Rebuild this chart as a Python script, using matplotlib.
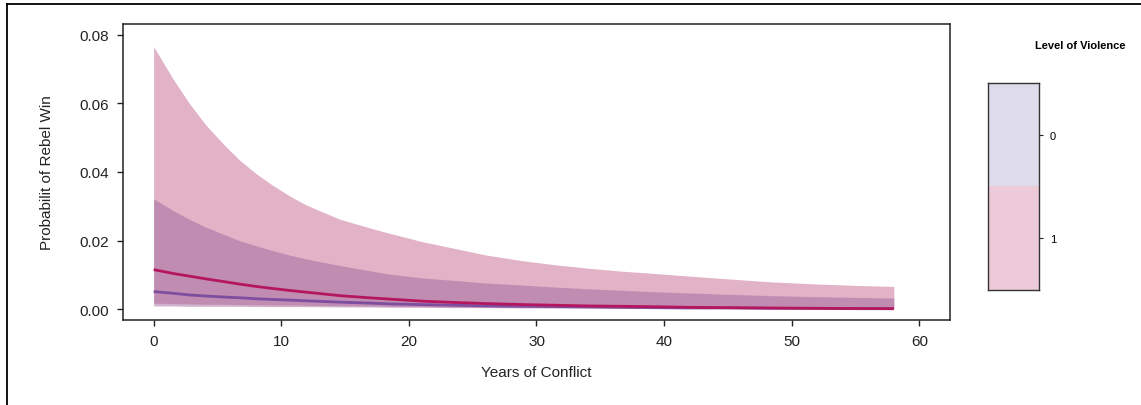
import matplotlib
matplotlib.use("Agg")
import matplotlib.pyplot as plt
from matplotlib.lines import Line2D

plt.rcParams['font.family'] = ['Liberation Sans', 'DejaVu Sans']

# Years of conflict at which values were read
years = [0, 1.5, 2.8, 4.1, 5.5, 6.7, 8, 9.3, 10.7, 12, 14.6, 17.2, 18.5, 21, 23.7, 26, 28.9, 31.5, 34.1, 36.5, 38.8, 42, 45, 48.5, 52, 55, 58]

# Level of violence = 1 (pink)
upper_1 = [0.0766, 0.0673, 0.0600, 0.0537, 0.0480, 0.0436, 0.0396, 0.0362, 0.0329, 0.0303, 0.0262, 0.0234, 0.0221, 0.0197, 0.0176, 0.0158, 0.0141, 0.0129, 0.0119, 0.0111, 0.0105, 0.0096, 0.0088, 0.0079, 0.0073, 0.0069, 0.0066]
mean_1 = [0.0115, 0.0104, 0.0096, 0.0088, 0.0080, 0.0073, 0.0066, 0.0060, 0.0054, 0.0049, 0.0039, 0.0032, 0.0029, 0.0023, 0.0019, 0.0016, 0.0013, 0.0011, 0.0009, 0.0008, 0.0007, 0.0005, 0.0004, 0.0003, 0.0002, 0.00015, 0.0001]
lower_1 = [0.0017, 0.0016, 0.0015, 0.0014, 0.0014, 0.0013, 0.0013, 0.0012, 0.0012, 0.0011, 0.0010, 0.0009, 0.0008, 0.0007, 0.0006, 0.0006, 0.0005, 0.0004, 0.0004, 0.0003, 0.0003, 0.0003, 0.0002, 0.0002, 0.0002, 0.0001, 0.0001]

# Level of violence = 0 (lavender)
upper_0 = [0.0322, 0.0288, 0.0262, 0.0239, 0.0218, 0.0200, 0.0185, 0.0171, 0.0157, 0.0146, 0.0127, 0.0110, 0.0102, 0.0091, 0.0083, 0.0076, 0.0070, 0.0064, 0.0059, 0.0055, 0.0051, 0.0047, 0.0043, 0.0039, 0.0036, 0.0034, 0.0032]
mean_0 = [0.0051, 0.0046, 0.0041, 0.0038, 0.0035, 0.0033, 0.0030, 0.0028, 0.0026, 0.0024, 0.0020, 0.0017, 0.0015, 0.0013, 0.0011, 0.0009, 0.0008, 0.0007, 0.0006, 0.0005, 0.0004, 0.0003, 0.0003, 0.0002, 0.0002, 0.0001, 0.0001]
lower_0 = [0.0009, 0.0009, 0.0008, 0.0008, 0.0008, 0.0008, 0.0007, 0.0007, 0.0007, 0.0007, 0.0006, 0.0006, 0.0005, 0.0005, 0.0004, 0.0004, 0.0003, 0.0003, 0.0003, 0.0002, 0.0002, 0.0002, 0.0002, 0.0001, 0.0001, 0.0001, 0.00005]

x_ticks = [0, 10, 20, 30, 40, 50, 60]
y_ticks = [0.00, 0.02, 0.04, 0.06, 0.08]
y_tick_labels = ["0.00", "0.02", "0.04", "0.06", "0.08"]
legend_levels = ["0", "1"]

fig = plt.figure(figsize=(11.41, 4.06), dpi=100)
ax = fig.add_axes([0.1078, 0.2094, 0.7248, 0.729])

ax.fill_between(years, lower_1, upper_1, color="#e2b3c7", lw=0)
ax.fill_between(years, lower_0, upper_0, color="#a2679d", alpha=0.5, lw=0)
ax.plot(years, mean_0, color="#7d4e9f", lw=2.0, solid_capstyle="butt")
ax.plot(years, mean_1, color="#b5175e", lw=2.0, solid_capstyle="butt")

ax.set_xlim(-2.4, 62.4)
ax.set_ylim(-0.0032, 0.0832)
ax.set_xticks(x_ticks)
ax.set_yticks(y_ticks)
ax.set_yticklabels(y_tick_labels)
ax.tick_params(direction="out", length=4, width=1, labelsize=11, color="#222222", labelcolor="#222222", pad=6)
for s in ax.spines.values():
    s.set_linewidth(1.1)
    s.set_color("#222222")
ax.set_xlabel("Years of Conflict", fontsize=11, labelpad=12, color="#222222")
ax.set_ylabel("Probabilit of Rebel Win", fontsize=11, labelpad=18, color="#222222")

# Legend (discrete colour bar)
lax = fig.add_axes([0.8657, 0.284, 0.0449, 0.5084])
lax.bar([0], [1], bottom=[1], width=1, color="#dedbeb", align="edge")
lax.bar([0], [1], bottom=[0], width=1, color="#edcad8", align="edge")
lax.set_xlim(0, 1)
lax.set_ylim(0, 2)
lax.set_xticks([])
lax.yaxis.tick_right()
lax.set_yticks([1.5, 0.5])
lax.set_yticklabels(legend_levels)
lax.tick_params(axis="y", direction="out", length=3, labelsize=8, pad=5, color="#222222")
for s in lax.spines.values():
    s.set_linewidth(1.0)
    s.set_color("#333333")
fig.text(0.947, 0.887, "Level of Violence", fontsize=8, fontweight="bold", ha="center", va="center")

# Outer frame (left and top)
fig.add_artist(Line2D([0.0058, 0.0058], [0, 0.988], transform=fig.transFigure, color="black", lw=1.3))
fig.add_artist(Line2D([0.0058, 1.0], [0.988, 0.988], transform=fig.transFigure, color="black", lw=1.3))

fig.savefig("out.png", dpi=100)
